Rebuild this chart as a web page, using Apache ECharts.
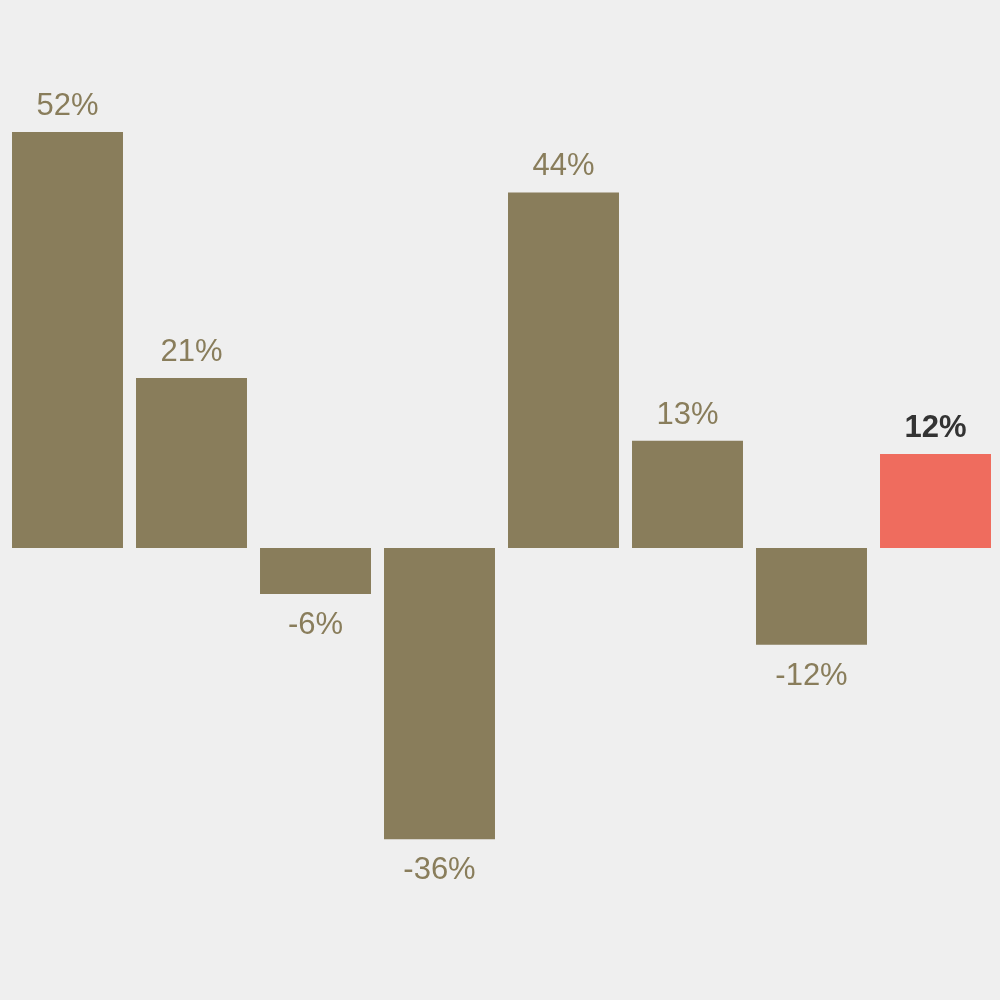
<!DOCTYPE html>
<html>
<head>
<meta charset="utf-8">
<style>
  html, body { margin: 0; padding: 0; background: #efefef; }
  #chart { width: 1000px; height: 1000px; }
</style>
<script src="https://cdn.jsdelivr.net/npm/echarts@6/dist/echarts.min.js"></script>
</head>
<body>
<div id="chart"></div>
<script>
// values (labels show them rounded)
var categories = ['1', '2', '3', '4', '5', '6', '7', '8'];
var values = [52, 21.25, -5.75, -36.4, 44.45, 13.4, -12.1, 11.75];
var highlightIndex = 7;

var olive = '#897d5b';
var red = '#ef6c5e';

var chart = echarts.init(document.getElementById('chart'));

var data = values.map(function (v, i) {
    var hi = i === highlightIndex;
    return {
        value: v,
        itemStyle: { color: hi ? red : olive },
        label: {
            position: v < 0 ? 'bottom' : 'top',
            distance: v < 0 ? 16 : 10,
            color: hi ? '#333333' : olive,
            fontWeight: hi ? 'bold' : 'normal'
        }
    };
});

chart.setOption({
    backgroundColor: '#efefef',
    animation: false,
    grid: { left: 5.5, right: 2.5, top: 100, bottom: 52 },
    xAxis: {
        type: 'category',
        data: categories,
        show: false
    },
    yAxis: {
        type: 'value',
        min: -50,
        max: 56,
        show: false
    },
    series: [{
        type: 'bar',
        data: data,
        barCategoryGap: '10.5%',
        label: {
            show: true,
            fontFamily: 'Liberation Sans, Arial, sans-serif',
            fontSize: 31,
            formatter: function (p) { return Math.round(p.value) + '%'; }
        }
    }]
});
</script>
</body>
</html>
